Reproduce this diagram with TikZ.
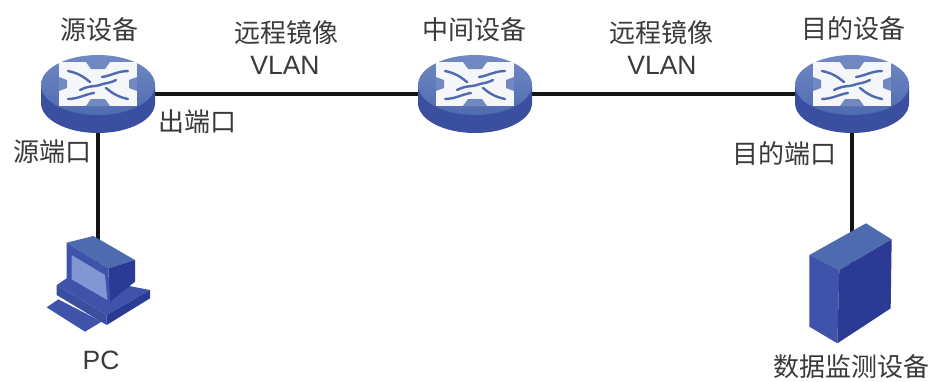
\documentclass[tikz,border=0pt]{standalone}
\usepackage{fontspec}
\setmainfont{Liberation Sans}
\newfontfamily\cjk{Noto Sans CJK SC}
\definecolor{txtc}{HTML}{3A3A3A}
\definecolor{faceA}{HTML}{7189C4}
\definecolor{faceB}{HTML}{4F6BB0}
\definecolor{sideC}{HTML}{3A4FA0}
\definecolor{deepC}{HTML}{2B3A94}
\definecolor{midC}{HTML}{3F53AA}
\definecolor{screenC}{HTML}{8196D2}
\tikzset{
  cjklabel/.style={font=\cjk\fontsize{26}{28}\selectfont,text=txtc,inner sep=0pt},
  latlabel/.style={font=\fontsize{26.5}{28}\selectfont,text=txtc,inner sep=0pt},
  anchorbox/.style={inner sep=0pt,minimum size=2pt},
  linkline/.style={line width=4pt,black!92},
  swirl/.style={line width=2.4pt,faceB,line cap=round},
  switchart/.pic={
    \fill[sideC] (-57,0) -- (-57,18) arc[start angle=180,end angle=360,x radius=57pt,y radius=30pt] -- (57,0) -- cycle;
    \shade[top color=faceA,bottom color=faceB] (0,0) ellipse[x radius=57pt,y radius=30pt];
    \fill[white!92!faceA] (-39,-23) -- (39,-23) -- (39,21) -- (-39,21) -- cycle;
    \fill[faceB!80!white] (-12,-23) -- (12,-23) -- (7,-16) -- (-7,-16) -- cycle;
    \fill[faceB!80!white] (-12,21) -- (12,21) -- (7,14) -- (-7,14) -- cycle;
    \fill[faceB!80!white] (-39,-8) -- (-39,6) -- (-31,3) -- (-31,-5) -- cycle;
    \fill[faceB!80!white] (39,-8) -- (39,6) -- (31,3) -- (31,-5) -- cycle;
    \draw[swirl] (-30,-14) .. controls (-20,-12) and (-14,-8) .. (-8,-3);
    \draw[swirl] (30,-14) .. controls (20,-14) and (12,-9) .. (4,-8);
    \draw[swirl] (-30,14) .. controls (-20,14) and (-12,9) .. (-4,8);
    \draw[swirl] (30,14) .. controls (20,12) and (14,8) .. (8,3);
    \draw[swirl] (-18,5) .. controls (-8,0) and (-4,2) .. (2,0);
    \draw[swirl] (18,-5) .. controls (10,-1) and (6,-2) .. (2,0);
  }
}
\begin{document}
\begin{tikzpicture}[x=1pt,y=-1pt]
\useasboundingbox (0,0) rectangle (933,381);
\fill[white] (0,0) rectangle (933,381);
% anchors
\node[anchorbox] (src) at (98,94) {};
\node[anchorbox] (mid) at (475,94) {};
\node[anchorbox] (dst) at (852,94) {};
\node[anchorbox] (pc) at (98,270) {};
\node[anchorbox] (srv) at (852,290) {};
% connectors
\draw[linkline] (src) -- (mid);
\draw[linkline] (mid) -- (dst);
\draw[linkline] (src) -- (pc);
\draw[linkline] (dst) -- (srv);
% switches
\pic at (98,85) {switchart};
\pic at (475,85) {switchart};
\pic at (852,85) {switchart};
% PC
\begin{scope}[shift={(30,220)},scale=1/3]
  \fill[midC] (50,262) -- (85,238) -- (215,305) -- (165,335) -- cycle;
  \fill[midC] (80,195) -- (125,165) -- (360,210) -- (230,285) -- cycle;
  \fill[sideC] (80,195) -- (230,285) -- (230,315) -- (80,225) -- cycle;
  \fill[deepC] (230,285) -- (360,210) -- (360,235) -- (230,315) -- cycle;
  \fill[faceB] (110,68) -- (190,48) -- (315,120) -- (235,145) -- cycle;
  \fill[deepC] (235,145) -- (315,120) -- (315,185) -- (240,245) -- cycle;
  \fill[midC] (110,68) -- (235,145) -- (240,250) -- (110,180) -- cycle;
  \fill[screenC] (125,105) -- (225,165) -- (232,240) -- (125,178) -- cycle;
\end{scope}
% server
\begin{scope}[shift={(760,220)},scale=1/3]
  \fill[faceB] (148,105) -- (318,10) -- (395,58) -- (238,150) -- cycle;
  \fill[midC] (148,105) -- (238,150) -- (232,370) -- (148,320) -- cycle;
  \fill[deepC] (238,150) -- (395,58) -- (392,265) -- (232,370) -- cycle;
\end{scope}
% labels
\node[cjklabel] (l1) at (99,30) {源设备};
\node[cjklabel] (l2) at (286,33) {远程镜像};
\node[latlabel] (l3) at (285,65) {VLAN};
\node[cjklabel] (l4) at (474,30) {中间设备};
\node[cjklabel] (l5) at (661,33) {远程镜像};
\node[latlabel] (l6) at (662,65) {VLAN};
\node[cjklabel] (l7) at (853,29) {目的设备};
\node[cjklabel] (l8) at (197,122) {出端口};
\node[cjklabel] (l9) at (52,152) {源端口};
\node[cjklabel] (l10) at (784,154) {目的端口};
\node[latlabel] (l11) at (101,360) {PC};
\node[cjklabel] (l12) at (851,367) {数据监测设备};
\end{tikzpicture}
\end{document}
